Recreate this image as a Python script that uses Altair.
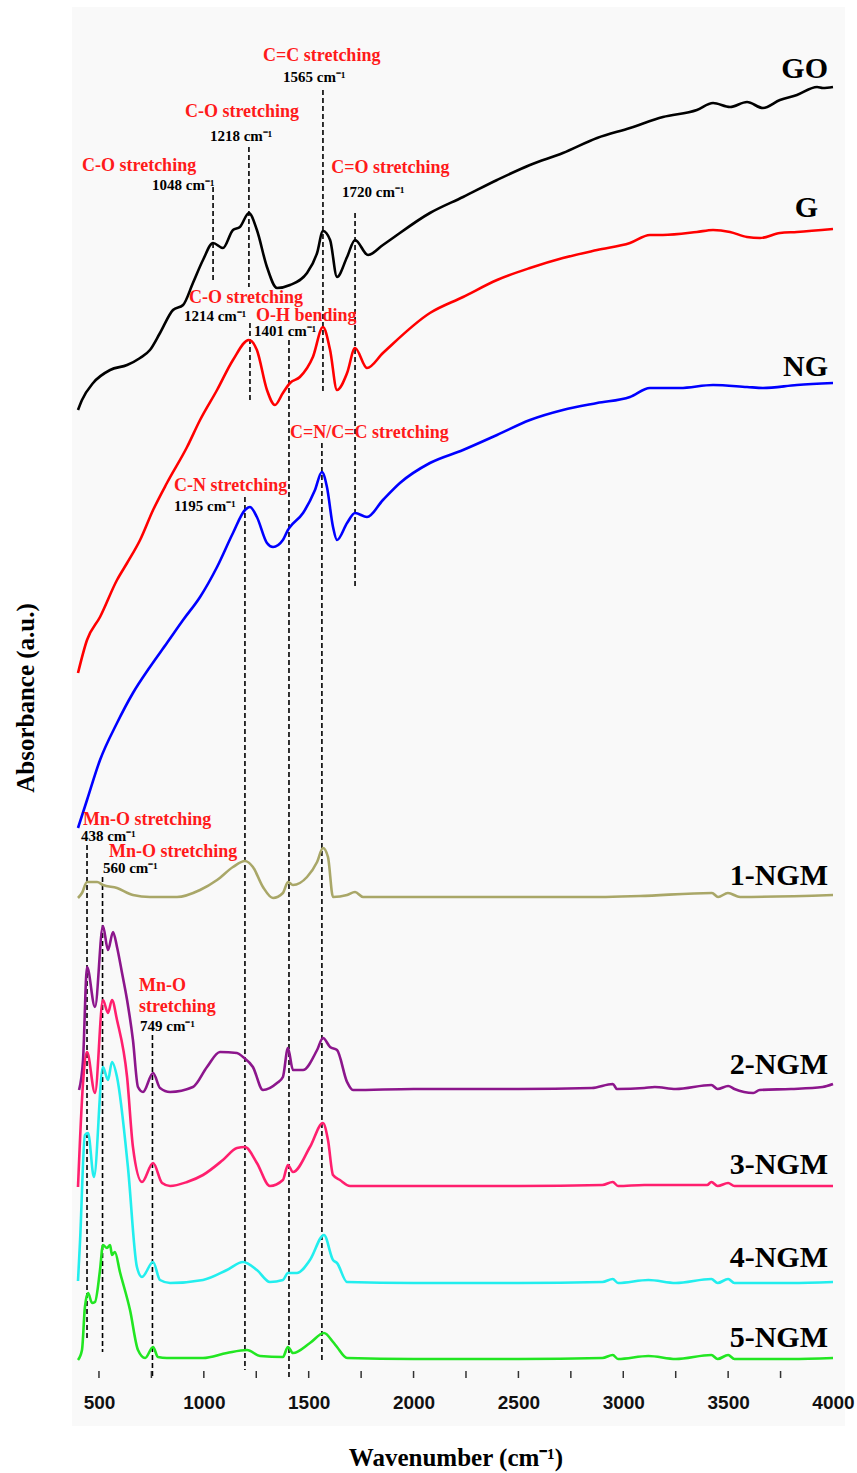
import altair as alt
import pandas as pd

# ---------------- data ----------------
GO_wn = [400,419,472,553,634,696,743,791,853,901,948,996,1044,1091,1139,1172,1215,1253,1301,1349,
         1411,1492,1540,1568,1602,1635,1683,1721,1783,1854,2078,2236,2398,2555,2712,2875,3032,3189,3351,3428,
         3509,3590,3666,3747,3828,3924,3952,4000]
GO_val = [968,978,995,1008,1013,1020,1028,1045,1068,1073,1095,1118,1135,1130,1148,1151,1165,1148,1111,1090,
          1093,1105,1125,1147,1138,1101,1121,1138,1123,1133,1165,1181,1198,1213,1225,1240,1250,1261,1268,1275,
          1271,1276,1270,1278,1283,1291,1290,1291]

G_wn = [400,443,505,586,634,696,758,824,920,982,1063,1139,1215,1253,1301,1339,1377,1411,1458,1520,
        1568,1602,1635,1683,1721,1778,1854,2078,2236,2398,2555,2712,2875,3032,3127,3189,3351,3428,3509,3590,
        3652,3747,3828,4000]
G_val = [705,738,761,798,815,838,868,895,931,958,988,1018,1038,1028,988,973,985,995,1001,1021,
         1051,1028,988,1005,1030,1010,1025,1065,1081,1098,1110,1120,1128,1135,1143,1143,1146,1148,1146,1141,
         1140,1145,1146,1149]

NG_wn = [400,443,505,586,662,743,824,901,982,1063,1139,1196,1220,1253,1301,1330,1377,1401,1411,1473,
         1530,1563,1587,1616,1635,1683,1721,1778,1854,1935,2078,2236,2398,2555,2712,2875,3032,3127,3270,3428,
         3590,3666,3828,4000]
NG_val = [550,578,618,655,685,711,735,758,781,811,845,868,871,861,835,831,838,848,851,865,
          888,906,891,851,838,855,865,861,878,895,915,928,943,958,968,975,981,990,990,993,
          991,990,993,995]

NGM1_wn = [400,419,443,491,519,586,662,743,872,982,1063,1139,1196,1234,1282,1330,1377,1401,1425,1492,
           1540,1568,1592,1616,1683,1721,1759,2078,2500,2889,3080,3423,3452,3499,3557,4000]
NGM1_val = [480,485,496,496,493,490,483,481,481,488,498,511,517,511,491,480,485,496,493,501,
            516,530,521,481,483,486,481,481,481,481,482,485,481,485,481,483]

NGM2_wn = [405,424,443,481,519,543,567,586,610,634,662,686,710,758,791,839,948,1015,1077,1158,
           1187,1234,1282,1349,1377,1401,1425,1473,1540,1568,1602,1635,1683,1711,2000,2500,2850,2950,2970,3100,
           3150,3250,3420,3450,3500,3530,3620,3650,3800,3950,4000]
NGM2_val = [288,318,411,371,452,428,446,431,405,378,338,291,286,305,290,286,291,311,326,325,
            321,311,288,295,301,330,308,308,328,340,331,328,296,288,289,289,290,294,289,290,
            291,289,293,289,292,289,285,288,289,291,294]

NGM3_wn = [400,424,443,481,519,543,562,586,634,662,705,758,801,839,920,996,1091,1158,1196,1253,
           1315,1377,1401,1425,1506,1568,1592,1616,1649,1697,2000,2500,2900,2950,2975,3100,3400,3420,3450,3500,
           3530,3800,4000]
NGM3_val = [191,295,326,285,378,365,378,358,301,231,196,215,195,192,196,203,218,230,231,215,
            192,198,213,206,231,255,238,203,198,192,192,192,193,196,192,193,193,196,192,195,
            192,192,192]

NGM4_wn = [400,410,433,448,476,519,543,562,586,638,681,705,758,791,839,996,1110,1187,1253,1315,
           1377,1401,1444,1506,1573,1616,1635,1683,2000,2500,2900,2950,2975,3120,3250,3420,3450,3500,3530,3800,
           4000]
NGM4_val = [97,138,243,245,201,311,298,316,301,211,111,101,116,98,95,98,108,116,108,96,
            98,105,105,118,143,118,115,96,95,95,96,99,95,98,95,99,95,99,95,95,
            96]

NGM5_wn = [400,419,433,448,467,481,505,519,538,553,562,576,600,648,686,720,758,781,824,996,
           1110,1206,1268,1377,1401,1425,1506,1573,1616,1635,1683,2000,2500,2900,2950,2975,3120,3250,3420,3450,
           3500,3530,3800,4000]
NGM5_val = [18,28,71,85,75,76,108,133,130,133,123,126,106,68,28,20,31,21,20,20,
            25,28,22,21,31,25,35,45,36,31,20,19,19,20,23,19,22,19,23,19,
            23,19,19,20]

series_names = ["GO", "G", "NG", "1-NGM", "2-NGM", "3-NGM", "4-NGM", "5-NGM"]
series_colors = ["#000000", "#ff0000", "#0000ff", "#a9a768", "#8c168c", "#ff1f6e", "#22eeee", "#22e622"]
series_data = [(GO_wn, GO_val), (G_wn, G_val), (NG_wn, NG_val), (NGM1_wn, NGM1_val),
               (NGM2_wn, NGM2_val), (NGM3_wn, NGM3_val), (NGM4_wn, NGM4_val), (NGM5_wn, NGM5_val)]

# series label positions (right-aligned, alphabetic baseline)
label_wn = [3976, 3929, 3976, 3976, 3976, 3976, 3976, 3976]
label_val = [1300, 1161, 1002, 493, 304, 204, 111, 31]

# dashed marker lines: wavenumber, top, bottom
dash_wn = [1044, 1215, 1568, 1721, 1220, 1406, 1563, 1196, 443, 517, 755]
dash_top = [1191, 1231, 1288, 1165, 1055, 1038, 935, 881, 533, 501, 343]
dash_bot = [1098, 1091, 985, 791, 978, 0, 18, 8, 40, 26, 0]

# assignment annotations (left-aligned)
red_text = ["C=C stretching", "C-O stretching", "C-O stretching", "C=O stretching", "C-O stretching",
            "O-H bending", "C=N/C=C stretching", "C-N stretching", "Mn-O stretching", "Mn-O stretching",
            "Mn-O", "stretching"]
red_wn = [1282, 910, 419, 1607, 929, 1249, 1411, 858, 424, 548, 691, 691]
red_val = [1317, 1261, 1207, 1205, 1075, 1057, 940, 887, 553, 521, 387, 366]

sup = "cm\u207b\u00b9"
blk_text = ["1565 " + sup, "1218 " + sup, "1048 " + sup, "1720 " + sup, "1214 " + sup, "1401 " + sup,
            "1195 " + sup, "438 " + sup, "560 " + sup, "749 " + sup]
blk_wn = [1378, 1029, 753, 1659, 905, 1239, 858, 414, 519, 696]
blk_val = [1296, 1237, 1188, 1181, 1057, 1042, 867, 537, 505, 347]

tick_wn = [500, 750, 1000, 1250, 1500, 1750, 2000, 2250, 2500, 2750, 3000, 3250, 3500, 3750]
label_ticks = [500, 1000, 1500, 2000, 2500, 3000, 3500, 4000]

# ---------------- build tables ----------------
rows = []
for name, (wn, val) in zip(series_names, series_data):
    assert len(wn) == len(val), name
    for i, (a, b) in enumerate(zip(wn, val)):
        rows.append({"series": name, "wn": a, "abs": b, "idx": i})
spec_df = pd.DataFrame(rows)
lab_df = pd.DataFrame({"series": series_names, "wn": label_wn, "abs": label_val})
dash_df = pd.DataFrame({"wn": dash_wn, "top": dash_top, "bot": dash_bot})
red_df = pd.DataFrame({"t": red_text, "wn": red_wn, "abs": red_val})
blk_df = pd.DataFrame({"t": blk_text, "wn": blk_wn, "abs": blk_val})
tick_df = pd.DataFrame({"wn": tick_wn})

W, H = 755, 1361
SERIF = "Liberation Serif"

xscale = alt.Scale(domain=[400, 4000], nice=False, zero=False)
yscale = alt.Scale(domain=[0, 1361], nice=False, zero=False)

xaxis = alt.Axis(values=label_ticks, format="d", title="Wavenumber (cm\u207b\u00b9)", grid=False, domain=False,
                 ticks=False, labelFont="Liberation Sans", labelFontWeight="bold", labelFontSize=19,
                 labelColor="#111", labelPadding=15, labelFlush=False, labelOverlap=False, zindex=2,
                 titleFont=SERIF, titleFontWeight="bold", titleFontSize=25, titleColor="#000",
                 titlePadding=33)
yaxis = alt.Axis(title="Absorbance (a.u.)", labels=False, ticks=False, domain=False, grid=False,
                 titleFont=SERIF, titleFontWeight="bold", titleFontSize=25, titleColor="#000",
                 titlePadding=40, zindex=2)

panel = alt.Chart(alt.Data(values=[{}])).mark_rect(color="#f9f9f9").encode(
    x=alt.value(-6), x2=alt.value(W + 12), y=alt.value(-10), y2=alt.value(H + 48))

lines = alt.Chart(spec_df).mark_line(strokeWidth=2.6, interpolate="monotone").encode(
    x=alt.X("wn:Q", scale=xscale, axis=xaxis),
    y=alt.Y("abs:Q", scale=yscale, axis=yaxis),
    color=alt.Color("series:N", scale=alt.Scale(domain=series_names, range=series_colors), legend=None),
    order="idx:Q",
)

dashes = alt.Chart(dash_df).mark_rule(color="#000", strokeWidth=1.6, strokeDash=[5, 3]).encode(
    x="wn:Q", y="top:Q", y2="bot:Q")

ticks = alt.Chart(tick_df).mark_rule(color="#333", strokeWidth=1.5).encode(
    x="wn:Q", y=alt.value(H), y2=alt.value(H - 7))

labels = alt.Chart(lab_df).mark_text(align="right", baseline="alphabetic", font=SERIF,
                                     fontWeight="bold", fontSize=30, color="#000").encode(
    x="wn:Q", y="abs:Q", text="series:N")

red = alt.Chart(red_df).mark_text(align="left", baseline="alphabetic", font=SERIF,
                                  fontWeight="bold", fontSize=18, color="#ff1a1a").encode(
    x="wn:Q", y="abs:Q", text="t:N")

blk = alt.Chart(blk_df).mark_text(align="left", baseline="alphabetic", font=SERIF,
                                  fontWeight="bold", fontSize=15, color="#000").encode(
    x="wn:Q", y="abs:Q", text="t:N")

chart = alt.layer(panel, dashes, lines, ticks, labels, red, blk).properties(
    width=W, height=H,
    autosize=alt.AutoSizeParams(type="none"),
    padding={"left": 78, "top": 17, "right": 24, "bottom": 95},
    background="white",
).configure_view(stroke="#333", strokeWidth=2)

chart.save("out.html", embed_options={"renderer": "svg", "actions": False})
